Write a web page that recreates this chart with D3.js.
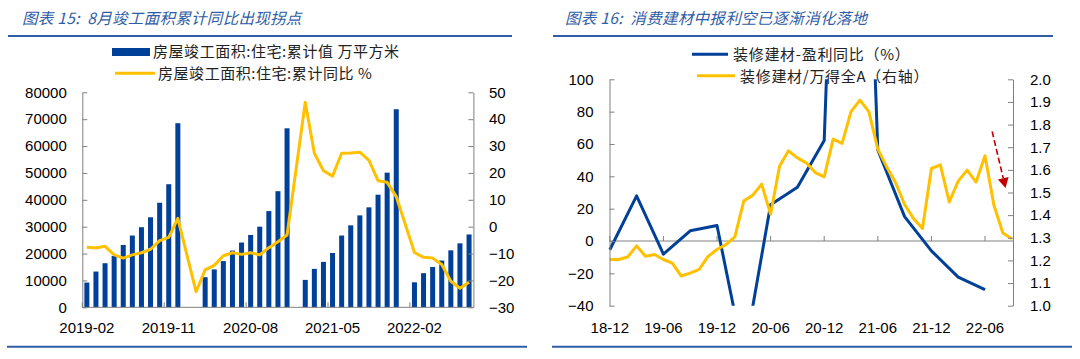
<!DOCTYPE html>
<html><head><meta charset="utf-8">
<script src="https://cdn.jsdelivr.net/npm/d3@7"></script>
<style>
html,body{margin:0;padding:0;background:#fff;}
svg{display:block;}
</style></head><body>
<svg id="c" width="1080" height="359"></svg>
<script>
// ---------------- Left chart data ----------------
const leftMonths = [
 "2019-02","2019-03","2019-04","2019-05","2019-06","2019-07","2019-08","2019-09","2019-10","2019-11","2019-12",
 "2020-01","2020-02","2020-03","2020-04","2020-05","2020-06","2020-07","2020-08","2020-09","2020-10","2020-11","2020-12",
 "2021-01","2021-02","2021-03","2021-04","2021-05","2021-06","2021-07","2021-08","2021-09","2021-10","2021-11","2021-12",
 "2022-01","2022-02","2022-03","2022-04","2022-05","2022-06","2022-07","2022-08"];
const completedArea = [
 9200,13300,16400,19100,23200,26700,29800,33500,38900,45800,68500,
 null,null,11200,14100,17200,21100,24100,26900,30000,35800,43200,66600,
 null,10200,14300,16900,20200,26700,30500,34200,37200,41900,50100,73700,
 null,9300,12700,15000,17400,21200,23800,27100];
const completedYoY = [
 -7.7,-7.9,-7.3,-10.5,-11.7,-10.5,-9.7,-8.4,-5.2,-4.0,3.1,
 null,-24.2,-16.1,-14.4,-10.8,-9.7,-10.3,-9.7,-10.5,-7.8,-5.6,-3.1,
 null,46.3,27.3,20.8,18.8,27.3,27.4,27.7,24.7,17.1,16.5,11.2,
 null,-9.6,-11.4,-11.7,-14.1,-20.3,-22.9,-20.7];
const leftXTicks = ["2019-02","2019-11","2020-08","2021-05","2022-02"];
const leftYTicks = [0,10000,20000,30000,40000,50000,60000,70000,80000];
const leftY2Ticks = [-30,-20,-10,0,10,20,30,40,50];
const leftTitle = "图表 15:  8月竣工面积累计同比出现拐点";
const leftLegend = ["房屋竣工面积:住宅:累计值 万平方米","房屋竣工面积:住宅:累计同比 %"];

// ---------------- Right chart data ----------------
const rightMonths = [
 "18-12","19-01","19-02","19-03","19-04","19-05","19-06","19-07","19-08","19-09","19-10","19-11","19-12",
 "20-01","20-02","20-03","20-04","20-05","20-06","20-07","20-08","20-09","20-10","20-11","20-12",
 "21-01","21-02","21-03","21-04","21-05","21-06","21-07","21-08","21-09","21-10","21-11","21-12",
 "22-01","22-02","22-03","22-04","22-05","22-06","22-07","22-08","22-09"];
const relStrength = [
 1.204,1.204,1.215,1.264,1.218,1.226,1.204,1.188,1.131,1.144,1.160,1.218,1.248,
 1.270,1.304,1.463,1.488,1.537,1.404,1.616,1.684,1.653,1.631,1.588,1.569,
 1.736,1.717,1.857,1.908,1.857,1.692,1.613,1.543,1.447,1.385,1.341,1.606,
 1.622,1.458,1.550,1.599,1.546,1.662,1.444,1.321,1.296];
const profitQuarters = ["18-12","19-03","19-06","19-09","19-12","20-03","20-06","20-09","20-12","21-03","21-06","21-09","21-12","22-03","22-06"];
const profitYoY = [-5.4,27.9,-8.1,6.3,9.6,-72,22.4,33.3,62.1,520,56.3,15.1,-6.1,-22.3,-30.1];
const rightXTicks = ["18-12","19-06","19-12","20-06","20-12","21-06","21-12","22-06"];
const rightYTicks = [-40,-20,0,20,40,60,80,100];
const rightY2Ticks = [1.0,1.1,1.2,1.3,1.4,1.5,1.6,1.7,1.8,1.9,2.0];
const rightTitle = "图表 16:  消费建材中报利空已逐渐消化落地";
const rightLegend = ["装修建材-盈利同比（%）","装修建材/万得全A（右轴）"];
// annotation arrow in data space (month index, right-axis value)
const arrowFrom = [42.8, 1.77];
const arrowTo = [44.3, 1.52];

// ---------------- Styles ----------------
const BLUE = "#004098", GOLD = "#FFC000", AXIS = "#808080", TITLE = "#2F5DA6";
const NUM_FONT = "'Liberation Sans', Arial, sans-serif";
const CJK_FONT = "'Noto Sans CJK SC', sans-serif";

const svg = d3.select("#c");

function styleAxis(g) {
  g.attr("font-family", NUM_FONT).attr("font-size", 15);
  g.select(".domain").attr("stroke", AXIS).attr("stroke-width", 1);
  g.selectAll(".tick line").attr("stroke", AXIS);
  g.selectAll(".tick text").attr("fill", "#000");
}

// ---------------- Frames & titles ----------------
const frames = [
  {title: leftTitle, tx: 22, top: [8, 512], bot: [7, 527]},
  {title: rightTitle, tx: 565, top: [553, 1053], bot: [552, 1072]}
];
frames.forEach(f => {
  svg.append("text").attr("xml:space", "preserve").text(f.title).attr("x", f.tx).attr("y", 23.5)
    .attr("font-family", CJK_FONT).attr("font-style", "italic").attr("font-size", 15.5)
    .attr("letter-spacing", 0.3).attr("fill", TITLE).style("white-space", "pre");
  svg.append("line").attr("x1", f.top[0]).attr("x2", f.top[1]).attr("y1", 36).attr("y2", 36)
    .attr("stroke", TITLE).attr("stroke-width", 2);
  svg.append("line").attr("x1", f.bot[0]).attr("x2", f.bot[1]).attr("y1", 346.7).attr("y2", 346.7)
    .attr("stroke", TITLE).attr("stroke-width", 2);
});

// ---------------- Left chart ----------------
const L = {x0: 82.3, x1: 473.6, top: 92.3, bot: 307.3};
const xL = d3.scaleBand().domain(leftMonths).range([L.x0, L.x1]).paddingInner(0.45).paddingOuter(0.225);
const yArea = d3.scaleLinear().domain([0, 80000]).range([L.bot, L.top]);
const yYoy = d3.scaleLinear().domain([-30, 50]).range([L.bot, L.top]);

const leftData = leftMonths.map((m, i) => ({m, a: completedArea[i], y: completedYoY[i]}));

svg.append("g").selectAll("rect").data(leftData.filter(d => d.a != null)).join("rect")
  .attr("x", d => xL(d.m)).attr("width", xL.bandwidth())
  .attr("y", d => yArea(d.a)).attr("height", d => yArea(0) - yArea(d.a))
  .attr("fill", BLUE);

svg.append("path").datum(leftData.filter(d => d.y != null))
  .attr("d", d3.line().x(d => xL(d.m) + xL.bandwidth() / 2).y(d => yYoy(d.y)))
  .attr("fill", "none").attr("stroke", GOLD).attr("stroke-width", 3).attr("stroke-linejoin", "round");

svg.append("g").attr("transform", `translate(${L.x0},0)`)
  .call(d3.axisLeft(yArea).tickValues(leftYTicks).tickSize(-5).tickSizeOuter(0).tickPadding(15.5).tickFormat(d3.format("d")))
  .call(styleAxis);
svg.append("g").attr("transform", `translate(${L.x1 - 0.2},0)`)
  .call(d3.axisRight(yYoy).tickValues(leftY2Ticks).tickSize(-5).tickSizeOuter(0).tickPadding(15.5).tickFormat(d3.format("d")))
  .call(styleAxis);

// x axis
svg.append("line").attr("x1", L.x0).attr("x2", L.x1).attr("y1", yArea(0)).attr("y2", yArea(0))
  .attr("stroke", AXIS);
const cellStart = m => xL(m) - xL.step() * xL.paddingInner() / 2;
svg.append("g").selectAll("line").data(leftXTicks).join("line")
  .attr("x1", cellStart).attr("x2", cellStart)
  .attr("y1", yArea(0)).attr("y2", yArea(0) - 5).attr("stroke", AXIS);
svg.append("g").selectAll("text").data(leftXTicks).join("text")
  .attr("x", m => xL(m) + xL.bandwidth() / 2).attr("y", 333.4)
  .attr("text-anchor", "middle").attr("font-family", NUM_FONT).attr("font-size", 15).attr("fill", "#000")
  .text(m => m);

// legend
svg.append("rect").attr("x", 112).attr("y", 48).attr("width", 38).attr("height", 8).attr("fill", BLUE);
svg.append("text").text(leftLegend[0]).attr("x", 153).attr("y", 56.5)
  .attr("font-family", CJK_FONT).attr("font-size", 15).attr("letter-spacing", 0.55).attr("fill", "#222");
svg.append("line").attr("x1", 115).attr("x2", 155).attr("y1", 73.3).attr("y2", 73.3)
  .attr("stroke", GOLD).attr("stroke-width", 3);
svg.append("text").text(leftLegend[1]).attr("x", 158).attr("y", 78.5)
  .attr("font-family", CJK_FONT).attr("font-size", 15).attr("letter-spacing", 0.55).attr("fill", "#222");

// ---------------- Right chart ----------------
const R = {x0: 609.5, x1: 1013, top: 79.3, bot: 305.7};
const xR = d3.scalePoint().domain(rightMonths).range([609.8, 1011.8]);
const xIdx = d3.scaleLinear().domain([0, rightMonths.length - 1]).range(xR.range());
const yProfit = d3.scaleLinear().domain([-40, 100]).range([R.bot, R.top]);
const yRel = d3.scaleLinear().domain([1.0, 2.0]).range([R.bot, R.top]);

svg.append("defs").append("clipPath").attr("id", "rclip").append("rect")
  .attr("x", R.x0 - 2).attr("y", R.top).attr("width", R.x1 - R.x0 + 4).attr("height", R.bot - R.top);

// x axis
svg.append("line").attr("x1", R.x0).attr("x2", R.x1).attr("y1", yProfit(0)).attr("y2", yProfit(0))
  .attr("stroke", AXIS);
svg.append("g").selectAll("line").data(rightXTicks).join("line")
  .attr("x1", m => xR(m)).attr("x2", m => xR(m))
  .attr("y1", yProfit(0)).attr("y2", yProfit(0) - 5).attr("stroke", AXIS);
svg.append("g").selectAll("text").data(rightXTicks).join("text")
  .attr("x", m => xR(m)).attr("y", 333)
  .attr("text-anchor", "middle").attr("font-family", NUM_FONT).attr("font-size", 15).attr("fill", "#000")
  .text(m => m);

const plot = svg.append("g").attr("clip-path", "url(#rclip)");
plot.append("path").datum(profitQuarters.map((m, i) => ({m, v: profitYoY[i]})))
  .attr("d", d3.line().x(d => xR(d.m)).y(d => yProfit(d.v)))
  .attr("fill", "none").attr("stroke", BLUE).attr("stroke-width", 3).attr("stroke-linejoin", "round");
plot.append("path").datum(rightMonths.map((m, i) => ({m, v: relStrength[i]})))
  .attr("d", d3.line().x(d => xR(d.m)).y(d => yRel(d.v)))
  .attr("fill", "none").attr("stroke", GOLD).attr("stroke-width", 3).attr("stroke-linejoin", "round");

svg.append("g").attr("transform", `translate(${R.x0},0)`)
  .call(d3.axisLeft(yProfit).tickValues(rightYTicks).tickSize(-5).tickSizeOuter(0).tickPadding(16).tickFormat(d3.format("d")))
  .call(styleAxis);
svg.append("g").attr("transform", `translate(${R.x1},0)`)
  .call(d3.axisRight(yRel).tickValues(rightY2Ticks).tickSize(-5).tickSizeOuter(0).tickPadding(17).tickFormat(d3.format(".1f")))
  .call(styleAxis);

// legend
svg.append("line").attr("x1", 692).attr("x2", 728).attr("y1", 54.3).attr("y2", 54.3)
  .attr("stroke", BLUE).attr("stroke-width", 3);
svg.append("text").text(rightLegend[0]).attr("x", 733).attr("y", 60)
  .attr("font-family", CJK_FONT).attr("font-size", 15).attr("letter-spacing", 0.7).attr("fill", "#222");
svg.append("line").attr("x1", 697).attr("x2", 735).attr("y1", 75.7).attr("y2", 75.7)
  .attr("stroke", GOLD).attr("stroke-width", 3);
svg.append("text").text(rightLegend[1]).attr("x", 740).attr("y", 81.5)
  .attr("font-family", CJK_FONT).attr("font-size", 15).attr("letter-spacing", 0.7).attr("fill", "#222");

// annotation arrow
const ax0 = xIdx(arrowFrom[0]), ay0 = yRel(arrowFrom[1]);
const ax1 = xIdx(arrowTo[0]), ay1 = yRel(arrowTo[1]);
const dx = ax1 - ax0, dy = ay1 - ay0, len = Math.hypot(dx, dy), ux = dx / len, uy = dy / len;
const headL = 10, headW = 5.5;
const bx = ax1 - ux * headL, by = ay1 - uy * headL;
svg.append("line").attr("x1", ax0).attr("y1", ay0).attr("x2", bx).attr("y2", by)
  .attr("stroke", "#C00000").attr("stroke-width", 1.6).attr("stroke-dasharray", "6,3");
svg.append("path")
  .attr("d", `M${ax1},${ay1}L${bx - uy * headW},${by + ux * headW}L${bx + uy * headW},${by - ux * headW}Z`)
  .attr("fill", "#C00000");
</script>
</body></html>
